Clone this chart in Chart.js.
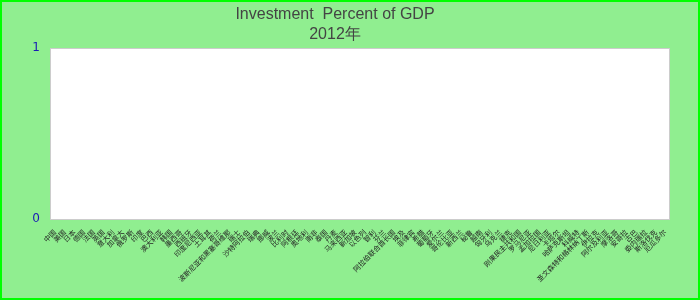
<!DOCTYPE html>
<html>
<head>
<meta charset="utf-8">
<script src="https://cdn.jsdelivr.net/npm/chart.js@4/dist/chart.umd.min.js"></script>
<style>
html,body{margin:0;padding:0;background:#90EE90;}
#wrap{width:700px;height:300px;position:relative;}
</style>
</head>
<body>
<div id="wrap"><canvas id="c" width="700" height="300"></canvas></div>
<script>
const titleLines = ["Investment  Percent of GDP", "2012年"];
const categories = ["中国","美国","日本","德国","法国","英国","意大利","加拿大","俄罗斯","印度","巴西","澳大利亚","韩国","墨西哥","西班牙","印度尼西亚","土耳其","荷兰","波斯尼亚和黑塞哥维那","瑞士","沙特阿拉伯","瑞典","挪威","波兰","比利时","阿根廷","奥地利","南非","泰国","丹麦","马来西亚","新加坡","以色列","智利","芬兰","阿拉伯联合酋长国","埃及","菲律宾","希腊","葡萄牙","爱尔兰","哥伦比亚","新西兰","秘鲁","越南","匈牙利","乌克兰","捷克","刚果民主共和国","罗马尼亚","孟加拉国","尼日利亚","卡塔尔","哈萨克斯坦","科威特","圣文森特和格林纳丁斯","伊拉克","阿尔及利亚","摩洛哥","安哥拉","古巴","委内瑞拉","斯洛伐克","厄瓜多尔"];
// No values are shown for 2012 in the reference: every value is missing.
const investmentPct = categories.map(() => null);
const yTicks = [0, 1];

const bgPlugin = {
  id: 'bg',
  beforeDraw(chart) {
    const ctx = chart.ctx, a = chart.chartArea;
    ctx.save();
    ctx.fillStyle = '#90EE90';
    ctx.fillRect(0, 0, chart.width, chart.height);
    ctx.strokeStyle = '#00ff00';
    ctx.lineWidth = 2;
    ctx.strokeRect(1, 1, chart.width - 2, chart.height - 2);
    ctx.fillStyle = '#ffffff';
    ctx.fillRect(a.left, a.top, a.right - a.left, a.bottom - a.top);
    ctx.strokeStyle = '#cccccc';
    ctx.lineWidth = 1;
    ctx.strokeRect(a.left + 0.5, a.top + 0.5, a.right - a.left - 1, a.bottom - a.top);
    ctx.restore();
  }
};

new Chart(document.getElementById('c'), {
  type: 'bar',
  data: {
    labels: categories,
    datasets: [{ label: 'Investment', data: investmentPct, backgroundColor: '#3366cc' }]
  },
  options: {
    responsive: false,
    animation: false,
    layout: { padding: { left: 0, right: 30, top: 0, bottom: 0 } },
    plugins: {
      legend: { display: false },
      tooltip: { enabled: false },
      title: {
        display: true,
        text: titleLines,
        color: '#444444',
        font: { family: 'Liberation Sans, Arial, sans-serif', size: 16, weight: 'normal', lineHeight: 1.25 },
        padding: { top: 5, bottom: 3 }
      }
    },
    scales: {
      x: {
        grid: { display: false, drawTicks: false },
        border: { display: false },
        ticks: {
          autoSkip: false,
          maxRotation: 45,
          minRotation: 45,
          padding: 9,
          color: '#222222',
          font: { family: 'Noto Sans CJK SC, sans-serif', size: 7 }
        },
        afterFit(scale) { scale.height = 81; }
      },
      y: {
        min: 0,
        max: 1,
        afterBuildTicks(scale) { scale.ticks = yTicks.map(v => ({ value: v })); },
        grid: { display: false, drawTicks: false },
        border: { display: false },
        ticks: {
          padding: 10,
          color: '#1a1ab4',
          font: { family: 'DejaVu Sans, sans-serif', size: 12 }
        },
        afterFit(scale) { scale.width = 50; }
      }
    }
  },
  plugins: [bgPlugin]
});
</script>
</body>
</html>
